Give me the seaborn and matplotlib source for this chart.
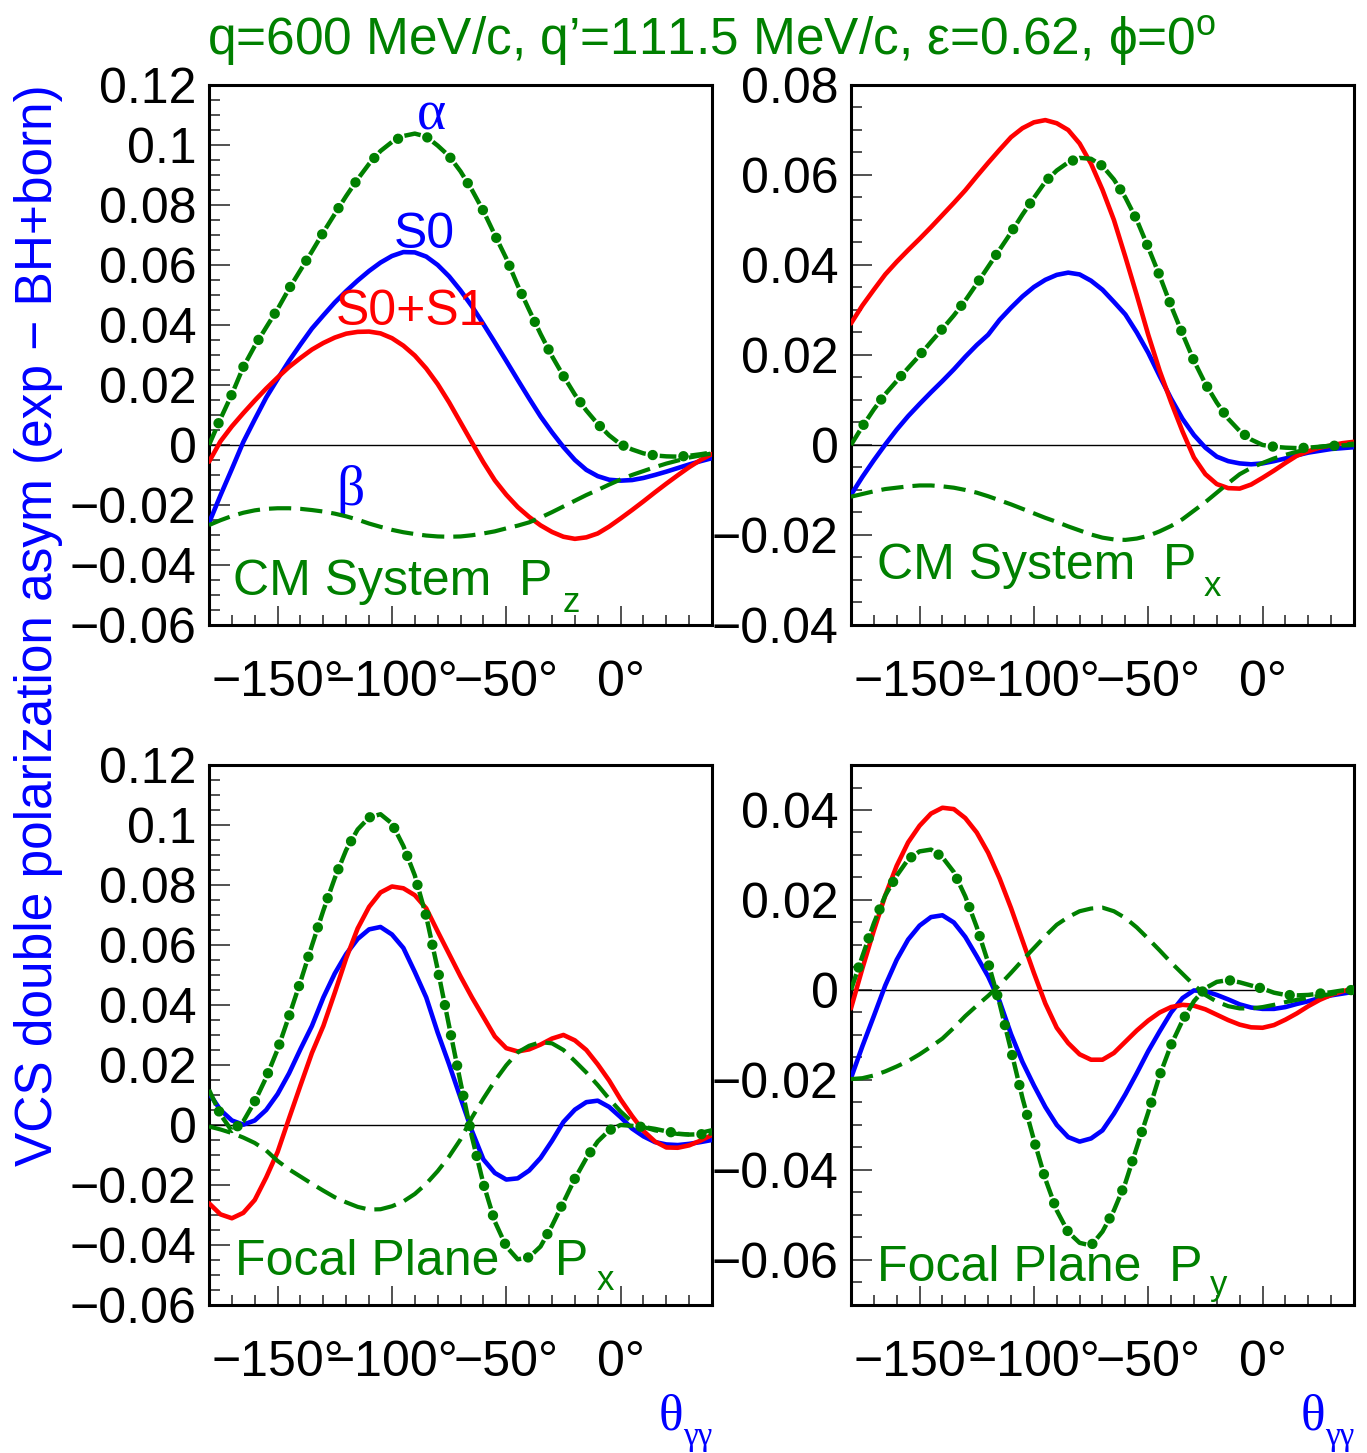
import matplotlib
matplotlib.use("Agg")
import matplotlib.pyplot as plt
import seaborn as sns
from matplotlib.ticker import MultipleLocator, FuncFormatter

# scattering angle theta_gg (deg)
theta = [-180, -175, -170, -165, -160, -155, -150, -145, -140, -135, -130, -125,
         -120, -115, -110, -105, -100, -95, -90, -85, -80, -75, -70, -65,
         -60, -55, -50, -45, -40, -35, -30, -25, -20, -15, -10, -5,
         0, 5, 10, 15, 20, 25, 30, 35, 40]

# CM system, P_z
cmz_s0 = [-0.026, -0.0168, -0.0080, 0.0010, 0.0085, 0.0158, 0.0220, 0.0280, 0.0335, 0.0388, 0.0432, 0.0475,
          0.0513, 0.0548, 0.0580, 0.0608, 0.0630, 0.0643, 0.0642, 0.0628, 0.0600, 0.0562, 0.0515, 0.0462,
          0.0403, 0.0342, 0.0280, 0.0217, 0.0155, 0.0095, 0.0042, -0.0007, -0.0050, -0.0083, -0.0104, -0.0116,
          -0.0119, -0.0117, -0.0110, -0.0100, -0.0089, -0.0077, -0.0065, -0.0054, -0.0044]
cmz_s01 = [-0.0056, 0.0012, 0.0062, 0.0106, 0.0148, 0.0188, 0.0225, 0.0260, 0.0290, 0.0318, 0.0340, 0.0358,
           0.0371, 0.0377, 0.0378, 0.0372, 0.0356, 0.0331, 0.0298, 0.0255, 0.0203, 0.0142, 0.0075, 0.0008,
           -0.0058, -0.0118, -0.0166, -0.0207, -0.0240, -0.0268, -0.0290, -0.0306, -0.0313, -0.0308, -0.0295, -0.0272,
           -0.0245, -0.0217, -0.0188, -0.0158, -0.0129, -0.0101, -0.0074, -0.0050, -0.0030]
cmz_alpha = [0.0, 0.0087, 0.0169, 0.0260, 0.0330, 0.0392, 0.0453, 0.0521, 0.0583, 0.0645, 0.0709, 0.0770,
             0.0830, 0.0886, 0.0937, 0.0980, 0.1010, 0.1030, 0.1038, 0.1028, 0.0998, 0.0963, 0.0912, 0.0850,
             0.0780, 0.0700, 0.0622, 0.0532, 0.0450, 0.0370, 0.0296, 0.0230, 0.0168, 0.0115, 0.0070, 0.0032,
             0.0002, -0.0015, -0.0028, -0.0035, -0.0038, -0.0039, -0.0036, -0.0031, -0.0025]
cmz_beta = [-0.0267, -0.0251, -0.0237, -0.0226, -0.0218, -0.0213, -0.0211, -0.0211, -0.0213, -0.0217, -0.0222, -0.0229,
            -0.0238, -0.0249, -0.0262, -0.0273, -0.0283, -0.0291, -0.0297, -0.0302, -0.0305, -0.0306, -0.0305, -0.0301,
            -0.0295, -0.0288, -0.0278, -0.0269, -0.0258, -0.0242, -0.0224, -0.0205, -0.0186, -0.0167, -0.0150, -0.0132,
            -0.0115, -0.0100, -0.0087, -0.0074, -0.0062, -0.0052, -0.0042, -0.0035, -0.0028]

# CM system, P_x
cmx_s0 = [-0.0111, -0.0071, -0.0034, 0.0001, 0.0034, 0.0064, 0.0091, 0.0117, 0.0142, 0.0168, 0.0196, 0.0222,
          0.0245, 0.0278, 0.0305, 0.0330, 0.0351, 0.0367, 0.0378, 0.0383, 0.0379, 0.0365, 0.0345, 0.0318,
          0.0290, 0.0250, 0.0205, 0.0153, 0.0103, 0.0058, 0.0022, -0.0006, -0.0026, -0.0036, -0.0041, -0.0043,
          -0.0041, -0.0036, -0.0030, -0.0023, -0.0017, -0.0013, -0.0009, -0.0007, -0.0005]
cmx_s01 = [0.0270, 0.0310, 0.0345, 0.0379, 0.0407, 0.0433, 0.0458, 0.0484, 0.0511, 0.0538, 0.0566, 0.0597,
           0.0627, 0.0656, 0.0684, 0.0704, 0.0717, 0.0722, 0.0715, 0.0700, 0.0670, 0.0625, 0.0567, 0.0500,
           0.0418, 0.0333, 0.0245, 0.0165, 0.0095, 0.0030, -0.0028, -0.0065, -0.0087, -0.0096, -0.0097, -0.0088,
           -0.0073, -0.0057, -0.0040, -0.0024, -0.0014, -0.0006, -0.0001, 0.0004, 0.0007]
cmx_alpha = [0.0, 0.0041, 0.0079, 0.0113, 0.0142, 0.0171, 0.0199, 0.0229, 0.0258, 0.0288, 0.0321, 0.0358,
             0.0396, 0.0434, 0.0472, 0.0512, 0.0549, 0.0585, 0.0610, 0.0628, 0.0638, 0.0636, 0.0620, 0.0590,
             0.0550, 0.0500, 0.0439, 0.0376, 0.0309, 0.0247, 0.0187, 0.0136, 0.0094, 0.0058, 0.0031, 0.0012,
             0.0, -0.0004, -0.0006, -0.0007, -0.0006, -0.0004, -0.0002, -0.0001, 0.0]
cmx_beta = [-0.0115, -0.0109, -0.0103, -0.0098, -0.0095, -0.0092, -0.0090, -0.0090, -0.0092, -0.0095, -0.0100, -0.0106,
            -0.0114, -0.0123, -0.0132, -0.0142, -0.0152, -0.0162, -0.0171, -0.0181, -0.0190, -0.0199, -0.0206, -0.0210,
            -0.0211, -0.0208, -0.0202, -0.0192, -0.0180, -0.0165, -0.0146, -0.0127, -0.0106, -0.0085, -0.0065, -0.0051,
            -0.0040, -0.0030, -0.0022, -0.0015, -0.0009, -0.0004, -0.0001, 0.0001, 0.0003]

# focal plane, P_x
fpx_s0 = [0.0106, 0.0050, 0.0015, 0.0001, 0.0015, 0.0050, 0.0103, 0.0172, 0.0253, 0.0330, 0.0425, 0.0505,
          0.0570, 0.0620, 0.0652, 0.0660, 0.0635, 0.0590, 0.0510, 0.0425, 0.0308, 0.0202, 0.0090, -0.0020,
          -0.0115, -0.0160, -0.0182, -0.0178, -0.0152, -0.0110, -0.0053, 0.0010, 0.0051, 0.0076, 0.0081, 0.0060,
          0.0026, -0.0012, -0.0038, -0.0057, -0.0065, -0.0067, -0.0063, -0.0057, -0.0050]
fpx_s01 = [-0.0261, -0.0298, -0.0311, -0.0293, -0.0250, -0.0175, -0.0090, 0.0022, 0.0132, 0.0240, 0.0330, 0.0441,
           0.0556, 0.0655, 0.0727, 0.0775, 0.0795, 0.0789, 0.0766, 0.0722, 0.0645, 0.0570, 0.0495, 0.0425,
           0.0360, 0.0295, 0.0256, 0.0245, 0.0252, 0.0268, 0.0288, 0.0300, 0.0282, 0.0250, 0.0202, 0.0148,
           0.0085, 0.0030, -0.0020, -0.0055, -0.0075, -0.0076, -0.0068, -0.0052, -0.0033]
fpx_alpha = [0.0117, 0.0035, -0.0020, 0.0012, 0.0078, 0.0158, 0.0252, 0.0363, 0.0478, 0.0598, 0.0715, 0.0823,
             0.0917, 0.0985, 0.1025, 0.1036, 0.1005, 0.0930, 0.0832, 0.0695, 0.0519, 0.0330, 0.0142, -0.0040,
             -0.0196, -0.0322, -0.0405, -0.0448, -0.0441, -0.0405, -0.0336, -0.0258, -0.0179, -0.0111, -0.0055, -0.0018,
             0.0, -0.0003, -0.0007, -0.0013, -0.0021, -0.0029, -0.0032, -0.0031, -0.0028]
fpx_beta = [-0.0005, -0.0015, -0.0027, -0.0042, -0.0060, -0.0085, -0.0120, -0.0148, -0.0172, -0.0196, -0.0219, -0.0241,
            -0.0258, -0.0273, -0.0282, -0.0281, -0.0271, -0.0255, -0.0230, -0.0196, -0.0154, -0.0105, -0.0048, 0.0025,
            0.0088, 0.0147, 0.0199, 0.0242, 0.0264, 0.0276, 0.0272, 0.0250, 0.0213, 0.0175, 0.0133, 0.0087,
            0.0045, 0.0010, -0.0007, -0.0018, -0.0025, -0.0030, -0.0032, -0.0026, -0.0017]

# focal plane, P_y
fpy_s0 = [-0.0196, -0.0125, -0.0058, 0.0010, 0.0067, 0.0112, 0.0143, 0.0162, 0.0166, 0.0150, 0.0118, 0.0075,
          0.0030, -0.0025, -0.0098, -0.0160, -0.0212, -0.0260, -0.0300, -0.0327, -0.0337, -0.0330, -0.0312, -0.0275,
          -0.0232, -0.0185, -0.0136, -0.0092, -0.0050, -0.0018, -0.0001, -0.0003, -0.0011, -0.0021, -0.0032, -0.0039,
          -0.0042, -0.0042, -0.0038, -0.0031, -0.0025, -0.0018, -0.0012, -0.0008, -0.0004]
fpy_s01 = [-0.0041, 0.0048, 0.0132, 0.0210, 0.0276, 0.0328, 0.0365, 0.0392, 0.0405, 0.0402, 0.0382, 0.0350,
           0.0305, 0.0248, 0.0182, 0.0110, 0.0038, -0.0030, -0.0084, -0.0118, -0.0143, -0.0155, -0.0155, -0.0140,
           -0.0115, -0.0090, -0.0068, -0.0050, -0.0038, -0.0033, -0.0035, -0.0043, -0.0055, -0.0067, -0.0077, -0.0083,
           -0.0084, -0.0078, -0.0066, -0.0052, -0.0036, -0.0022, -0.0011, -0.0003, 0.0004]
fpy_alpha = [0.0, 0.0075, 0.0148, 0.0210, 0.0254, 0.0290, 0.0308, 0.0312, 0.0295, 0.0262, 0.0208, 0.0140,
             0.0061, -0.0030, -0.0134, -0.0240, -0.0333, -0.0420, -0.0490, -0.0538, -0.0562, -0.0568, -0.0537, -0.0490,
             -0.0429, -0.0350, -0.0272, -0.0190, -0.0122, -0.0068, -0.0025, 0.0004, 0.0018, 0.0022, 0.0017, 0.0010,
             0.0003, -0.0006, -0.0011, -0.0012, -0.0011, -0.0008, -0.0005, -0.0001, 0.0]
fpy_beta = [-0.0198, -0.0196, -0.0190, -0.0181, -0.0170, -0.0158, -0.0143, -0.0126, -0.0108, -0.0084, -0.0058, -0.0035,
            -0.0013, 0.0011, 0.0038, 0.0066, 0.0093, 0.0120, 0.0145, 0.0162, 0.0175, 0.0181, 0.0183, 0.0175,
            0.0160, 0.0139, 0.0114, 0.0088, 0.0061, 0.0036, 0.0011, -0.0011, -0.0026, -0.0036, -0.0041, -0.0041,
            -0.0038, -0.0033, -0.0027, -0.0022, -0.0017, -0.0013, -0.0009, -0.0004, 0.0]

zero_line_end = 0

sns.set_theme(style="ticks")
plt.rcParams.update({
    "font.family": ["Liberation Sans", "DejaVu Sans"],
    "mathtext.fontset": "custom",
    "mathtext.rm": "Liberation Sans",
    "mathtext.it": "Liberation Sans:italic",
    "lines.scale_dashes": False,
    "axes.linewidth": 2.2,
    "axes.edgecolor": "black",
})

GREEN = "#008000"
BLUE = "#0000ff"
RED = "#ff0000"
FS = 36
LW = 3.3

fig = plt.figure(figsize=(13.67, 14.53), dpi=100)

panels = [
    dict(rect=[0.1529, 0.5699, 0.3680, 0.3716], ylim=(-0.06, 0.12),
         curves=(cmz_s0, cmz_s01, cmz_alpha, cmz_beta),
         label=("CM System  P", -169.5, -0.050), sub=("z", -25.3, -0.0556)),
    dict(rect=[0.6225, 0.5699, 0.3680, 0.3716], ylim=(-0.04, 0.08),
         curves=(cmx_s0, cmx_s01, cmx_alpha, cmx_beta),
         label=("CM System  P", -168.8, -0.0298), sub=("x", -25.6, -0.0336)),
    dict(rect=[0.1529, 0.1019, 0.3680, 0.3716], ylim=(-0.06, 0.12),
         curves=(fpx_s0, fpx_s01, fpx_alpha, fpx_beta),
         label=("Focal Plane    P", -168.6, -0.050), sub=("x", -10.4, -0.055)),
    dict(rect=[0.6225, 0.1019, 0.3680, 0.3716], ylim=(-0.07, 0.05),
         curves=(fpy_s0, fpy_s01, fpy_alpha, fpy_beta),
         label=("Focal Plane  P", -168.8, -0.0646), sub=("y", -22.9, -0.0678)),
]


def yfmt(v, pos):
    if abs(v) < 1e-9:
        return "0"
    return f"{v:g}".replace("-", "\u2212")


def xfmt(v, pos):
    return f"{int(round(v))}\u00b0".replace("-", "\u2212")


axes = []
for p in panels:
    ax = fig.add_axes(p["rect"])
    s0, s01, alpha, beta = p["curves"]
    ax.hlines(0, theta[0], zero_line_end, color="black", lw=1.0, zorder=1)
    sns.lineplot(x=theta, y=s0, ax=ax, color=BLUE, lw=LW, errorbar=None, zorder=3)
    sns.lineplot(x=theta, y=s01, ax=ax, color=RED, lw=LW, errorbar=None, zorder=4)
    sns.lineplot(x=theta, y=beta, ax=ax, color=GREEN, lw=3.0, errorbar=None,
                 linestyle=(0, (16, 6.5)), dash_capstyle="butt", zorder=5)
    # alpha: dash-dot pattern with big round dots
    sns.lineplot(x=theta, y=alpha, ax=ax, color=GREEN, lw=3.2, errorbar=None,
                 linestyle=(0, (12, 10.2)), dash_capstyle="butt", zorder=6)
    sns.lineplot(x=theta, y=alpha, ax=ax, color=GREEN, lw=7.5, errorbar=None,
                 linestyle=(5.1, (0.01, 22.19)), dash_capstyle="round", zorder=6)

    ax.set_xlim(theta[0], theta[-1])
    ax.set_ylim(*p["ylim"])
    ax.set_xlabel("")
    ax.set_ylabel("")
    ax.xaxis.set_major_locator(MultipleLocator(50))
    ax.xaxis.set_minor_locator(MultipleLocator(10))
    ax.yaxis.set_major_locator(MultipleLocator(0.02))
    ax.yaxis.set_minor_locator(MultipleLocator(0.005))
    ax.xaxis.set_major_formatter(FuncFormatter(xfmt))
    ax.yaxis.set_major_formatter(FuncFormatter(yfmt))
    ax.tick_params(which="both", direction="in", top=False, right=False,
                   colors="black", labelsize=FS, width=1.2, color="#333333")
    ax.tick_params(axis="y", which="major", length=15, pad=9)
    ax.tick_params(axis="y", which="minor", length=8)
    ax.tick_params(axis="x", which="major", length=14, pad=25)
    ax.tick_params(axis="x", which="minor", length=7)
    for sp in ax.spines.values():
        sp.set_visible(True)
        sp.set_linewidth(2.2)
        sp.set_color("black")

    txt, lx, ly = p["label"]
    ax.text(lx, ly, txt, fontsize=FS, color=GREEN, ha="left", va="baseline", zorder=7)
    st, sx, sy = p["sub"]
    ax.text(sx, sy, st, fontsize=25, color=GREEN, ha="left", va="baseline", zorder=7)
    axes.append(ax)

# curve labels in the first panel
ax0 = axes[0]
ax0.text(-82.6, 0.1052, "\u03b1", fontsize=40, color=BLUE, ha="center", va="baseline",
         family=["Liberation Serif", "DejaVu Serif"])
ax0.text(-85.9, 0.0656, "S0", fontsize=FS, color=BLUE, ha="center", va="baseline")
ax0.text(-91.7, 0.040, "S0+S1", fontsize=FS, color=RED, ha="center", va="baseline")
ax0.text(-118.0, -0.020, "\u03b2", fontsize=40, color=BLUE, ha="center", va="baseline",
         family=["Liberation Serif", "DejaVu Serif"])

# x axis titles under the bottom panels
for ax in axes[2:]:
    ax.text(0.9423, -0.2315, "\u03b8", fontsize=37, color=BLUE, ha="right", va="baseline",
            transform=ax.transAxes, family=["Liberation Serif", "DejaVu Serif"])
    ax.text(1.0, -0.2593, "\u03b3\u03b3", fontsize=24, color=BLUE, ha="right", va="baseline",
            transform=ax.transAxes, family=["Liberation Serif", "DejaVu Serif"])

fig.text(0.0278, 0.5699, "VCS double polarization asym (exp \u2212 BH+born)", fontsize=37,
         color=BLUE, rotation=90, ha="center", va="center")
fig.text(0.521, 0.9621, "q=600 MeV/c, q\u2019=111.5 MeV/c, \u03b5=0.62, \u03d5=0$^{\\rm o}$",
         fontsize=37, color=GREEN, ha="center", va="baseline")

fig.savefig("out.png", dpi=100)
